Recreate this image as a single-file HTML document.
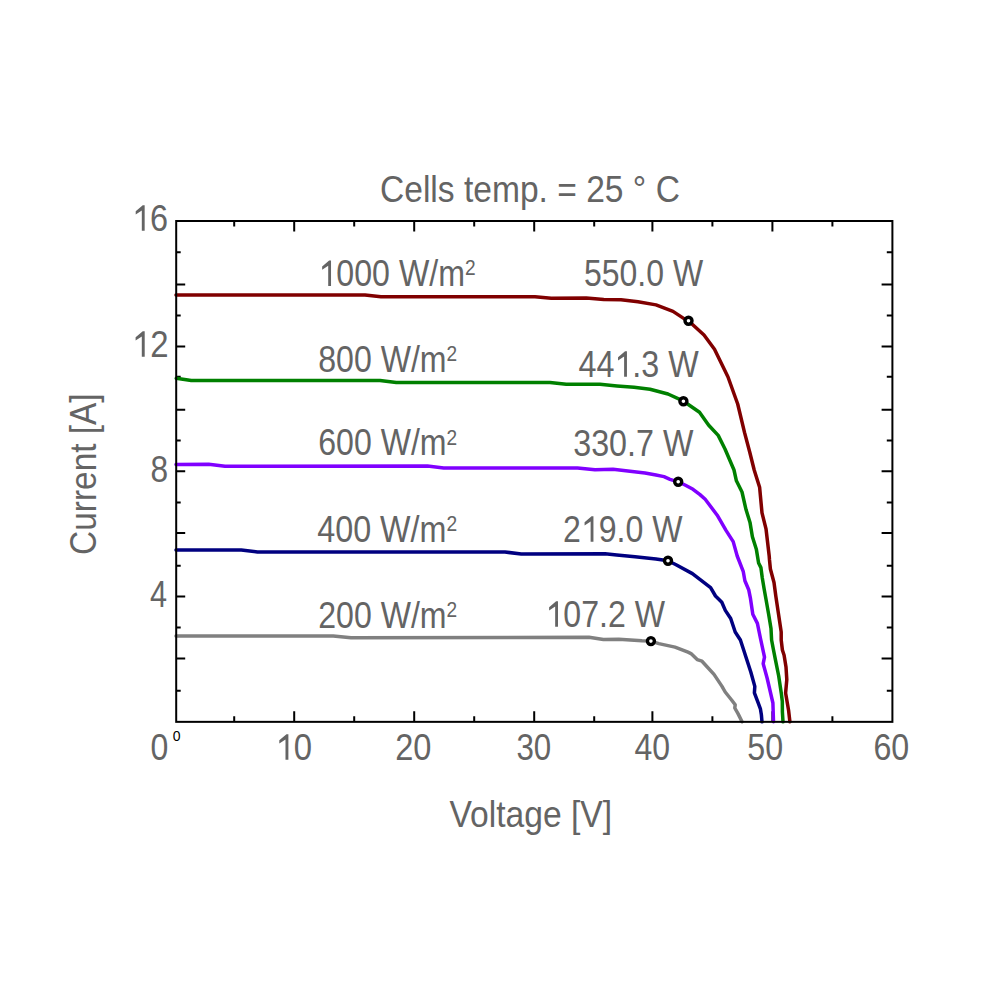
<!DOCTYPE html><html><head><meta charset="utf-8"><style>html,body{margin:0;padding:0;background:#fff;}svg{display:block;}text{font-family:"Liberation Sans",sans-serif;}</style></head><body>
<svg width="1000" height="1000" viewBox="0 0 1000 1000">
<rect width="1000" height="1000" fill="#fff"/>
<path d="M176.2,690.80h4.5M892.4,690.80h-5.6M176.2,658.40h9M892.4,658.40h-10.8M176.2,627.40h4.5M892.4,627.40h-5.6M176.2,596.60h9M892.4,596.60h-10.8M176.2,565.80h4.5M892.4,565.80h-5.6M176.2,533.00h9M892.4,533.00h-10.8M176.2,502.40h4.5M892.4,502.40h-5.6M176.2,471.20h9M892.4,471.20h-10.8M176.2,440.60h4.5M892.4,440.60h-5.6M176.2,409.70h9M892.4,409.70h-10.8M176.2,376.80h4.5M892.4,376.80h-5.6M176.2,346.40h9M892.4,346.40h-10.8M176.2,315.40h4.5M892.4,315.40h-5.6M176.2,284.60h9M892.4,284.60h-10.8M176.2,252.20h4.5M892.4,252.20h-5.6M234.20,221.0v5.5M234.20,721.85v-5.5M294.20,221.0v10.6M294.20,721.85v-10.6M354.20,221.0v5.5M354.20,721.85v-5.5M414.20,221.0v10.6M414.20,721.85v-10.6M474.20,221.0v5.5M474.20,721.85v-5.5M534.20,221.0v10.6M534.20,721.85v-10.6M594.20,221.0v5.5M594.20,721.85v-5.5M652.40,221.0v10.6M652.40,721.85v-10.6M712.40,221.0v5.5M712.40,721.85v-5.5M772.40,221.0v10.6M772.40,721.85v-10.6M832.40,221.0v5.5M832.40,721.85v-5.5" stroke="#000" stroke-width="2" fill="none"/>
<polyline points="176.00,294.90 365.00,294.90 381.00,296.80 535.00,296.80 551.25,298.25 586.25,298.00 603.75,299.50 621.00,299.70 638.00,301.70 656.00,304.90 673.00,311.40 684.00,318.60 688.40,320.70 704.00,335.00 714.50,349.20 728.00,377.00 737.70,404.00 744.50,432.40 749.70,452.00 754.20,470.00 759.60,487.20 762.00,512.80 766.00,528.80 769.20,556.00 769.50,560.00 770.40,569.00 774.00,582.50 775.80,596.00 778.50,614.00 781.20,632.00 781.20,640.00 782.40,650.00 784.10,655.30 786.00,667.00 786.80,679.60 785.60,693.00 788.60,710.50 789.90,721.80" fill="none" stroke="#800000" stroke-width="3.5" stroke-linejoin="round" stroke-linecap="round"/>
<polyline points="176.25,378.25 191.25,380.50 380.00,380.50 396.25,382.50 550.00,382.50 566.25,384.25 600.00,384.30 617.00,385.90 634.00,387.20 650.00,389.20 668.00,394.00 683.60,401.20 699.50,412.20 708.50,425.00 718.20,435.40 725.00,449.00 734.00,470.00 736.40,480.80 742.00,492.00 746.00,509.60 750.00,522.40 752.40,536.80 756.40,549.60 758.60,563.00 760.90,567.60 762.30,578.00 764.10,588.80 765.90,598.70 768.60,614.00 771.00,628.50 771.60,640.00 773.30,649.00 775.60,660.70 778.70,676.00 781.40,694.00 782.30,701.30 782.40,712.00 783.00,721.80" fill="none" stroke="#008000" stroke-width="3.5" stroke-linejoin="round" stroke-linecap="round"/>
<polyline points="176.00,464.50 208.75,464.30 225.00,466.20 427.50,466.10 443.75,468.00 577.50,468.00 595.00,469.75 613.00,469.20 630.00,471.20 645.00,473.00 656.00,475.00 664.00,476.60 670.00,479.30 678.20,481.80 685.00,485.00 693.00,489.30 700.00,494.60 705.20,499.20 717.20,515.20 726.00,530.40 733.20,541.60 737.20,556.00 743.30,571.70 744.90,580.70 748.70,589.70 750.50,598.70 752.80,614.30 757.40,623.40 760.60,639.00 764.50,657.20 763.20,663.70 767.10,678.00 772.90,703.00 773.50,721.80" fill="none" stroke="#8000ff" stroke-width="3.5" stroke-linejoin="round" stroke-linecap="round"/>
<polyline points="176.00,550.00 241.25,550.00 257.50,552.00 505.00,552.00 521.25,554.00 605.00,553.75 616.80,555.10 635.00,556.80 656.00,558.90 668.00,560.80 675.60,564.50 692.40,573.60 710.60,587.60 715.50,596.00 721.80,602.30 725.30,610.40 730.70,618.50 735.20,632.00 740.40,640.00 744.00,651.00 745.60,656.00 750.80,672.00 754.80,686.40 754.40,692.80 758.00,702.40 760.40,708.80 761.40,715.00 762.00,721.80" fill="none" stroke="#000080" stroke-width="3.5" stroke-linejoin="round" stroke-linecap="round"/>
<polyline points="176.00,635.90 333.25,635.90 351.00,637.75 589.00,637.30 603.40,639.50 618.80,639.30 642.00,640.80 650.80,641.10 658.80,643.60 675.00,647.10 688.00,652.20 691.00,653.60 697.20,659.60 702.00,661.20 714.00,674.40 722.00,686.40 725.20,692.00 731.60,700.00 735.20,704.80 734.80,708.00 738.00,713.60 741.20,720.00 742.00,721.80" fill="none" stroke="#808080" stroke-width="3.5" stroke-linejoin="round" stroke-linecap="round"/>
<rect x="176.2" y="221.0" width="716.20" height="500.85" fill="none" stroke="#000" stroke-width="2"/>
<circle cx="688.5" cy="320.7" r="3.5" fill="#fff" stroke="#000" stroke-width="3.4"/>
<circle cx="683.4" cy="401.2" r="3.5" fill="#fff" stroke="#000" stroke-width="3.4"/>
<circle cx="678.2" cy="481.8" r="3.5" fill="#fff" stroke="#000" stroke-width="3.4"/>
<circle cx="668" cy="560.8" r="3.5" fill="#fff" stroke="#000" stroke-width="3.4"/>
<circle cx="650.9" cy="641.1" r="3.5" fill="#fff" stroke="#000" stroke-width="3.4"/>
<g transform="translate(379.99,0) scale(0.9076,1) translate(-379.99,0)"><text x="379.99" y="202.00" font-size="37" fill="#646464" text-anchor="start">Cells temp. = 25 ° C</text></g>
<g transform="translate(168.08,0) scale(0.8772,1) translate(-168.08,0)"><text x="168.08" y="230.75" font-size="37" fill="#646464" text-anchor="end"> 6</text><path d="M620 0L620 1120L235 899L235 1076L680 1409L800 1409L800 0Z" fill="#646464" transform="translate(126.930,230.75) scale(0.018066,-0.018066)"/></g>
<g transform="translate(168.47,0) scale(0.8906,1) translate(-168.47,0)"><text x="168.47" y="356.70" font-size="37" fill="#646464" text-anchor="end"> 2</text><path d="M620 0L620 1120L235 899L235 1076L680 1409L800 1409L800 0Z" fill="#646464" transform="translate(127.323,356.70) scale(0.018066,-0.018066)"/></g>
<g transform="translate(168.16,0) scale(0.8560,1) translate(-168.16,0)"><text x="168.16" y="482.00" font-size="37" fill="#646464" text-anchor="end">8</text></g>
<g transform="translate(167.15,0) scale(0.8274,1) translate(-167.15,0)"><text x="167.15" y="606.80" font-size="37" fill="#646464" text-anchor="end">4</text></g>
<g transform="translate(159.40,0) scale(0.8667,1) translate(-159.40,0)"><text x="159.40" y="759.80" font-size="37" fill="#646464" text-anchor="middle">0</text></g>
<g transform="translate(293.83,0) scale(0.8896,1) translate(-293.83,0)"><text x="293.83" y="759.80" font-size="37" fill="#646464" text-anchor="middle"> 0</text><path d="M620 0L620 1120L235 899L235 1076L680 1409L800 1409L800 0Z" fill="#646464" transform="translate(273.260,759.80) scale(0.018066,-0.018066)"/></g>
<g transform="translate(413.30,0) scale(0.8803,1) translate(-413.30,0)"><text x="413.30" y="759.80" font-size="37" fill="#646464" text-anchor="middle">20</text></g>
<g transform="translate(533.85,0) scale(0.8456,1) translate(-533.85,0)"><text x="533.85" y="759.80" font-size="37" fill="#646464" text-anchor="middle">30</text></g>
<g transform="translate(652.32,0) scale(0.8651,1) translate(-652.32,0)"><text x="652.32" y="759.80" font-size="37" fill="#646464" text-anchor="middle">40</text></g>
<g transform="translate(765.22,0) scale(0.8712,1) translate(-765.22,0)"><text x="765.22" y="759.80" font-size="37" fill="#646464" text-anchor="middle">50</text></g>
<g transform="translate(891.34,0) scale(0.8712,1) translate(-891.34,0)"><text x="891.34" y="759.80" font-size="37" fill="#646464" text-anchor="middle">60</text></g>
<g transform="translate(449.40,0) scale(0.9096,1) translate(-449.40,0)"><text x="449.40" y="826.80" font-size="37" fill="#646464" text-anchor="start">Voltage [V]</text></g>
<g transform="translate(584.05,0) scale(0.8639,1) translate(-584.05,0)"><text x="584.05" y="285.70" font-size="37" fill="#646464" text-anchor="start">550.0 W</text></g>
<g transform="translate(578.43,0) scale(0.8729,1) translate(-578.43,0)"><text x="578.43" y="376.70" font-size="37" fill="#646464" text-anchor="start">44 .3 W</text><path d="M620 0L620 1120L235 899L235 1076L680 1409L800 1409L800 0Z" fill="#646464" transform="translate(619.560,376.70) scale(0.018066,-0.018066)"/></g>
<g transform="translate(573.23,0) scale(0.8721,1) translate(-573.23,0)"><text x="573.23" y="455.70" font-size="37" fill="#646464" text-anchor="start">330.7 W</text></g>
<g transform="translate(563.06,0) scale(0.8676,1) translate(-563.06,0)"><text x="563.06" y="541.70" font-size="37" fill="#646464" text-anchor="start">2 9.0 W</text><path d="M620 0L620 1120L235 899L235 1076L680 1409L800 1409L800 0Z" fill="#646464" transform="translate(583.628,541.70) scale(0.018066,-0.018066)"/></g>
<g transform="translate(545.45,0) scale(0.8677,1) translate(-545.45,0)"><text x="545.45" y="626.80" font-size="37" fill="#646464" text-anchor="start"> 07.2 W</text><path d="M620 0L620 1120L235 899L235 1076L680 1409L800 1409L800 0Z" fill="#646464" transform="translate(545.450,626.80) scale(0.018066,-0.018066)"/></g>
<g transform="translate(318.47,0) scale(0.8690,1) translate(-318.47,0)"><text x="318.47" y="286.00" font-size="37" fill="#646464" text-anchor="start"> 000 W/m<tspan font-size="22" dy="-10.6">2</tspan></text><path d="M620 0L620 1120L235 899L235 1076L680 1409L800 1409L800 0Z" fill="#646464" transform="translate(318.470,286.00) scale(0.018066,-0.018066)"/></g>
<g transform="translate(318.25,0) scale(0.8669,1) translate(-318.25,0)"><text x="318.25" y="371.80" font-size="37" fill="#646464" text-anchor="start">800 W/m<tspan font-size="22" dy="-10.6">2</tspan></text></g>
<g transform="translate(318.25,0) scale(0.8669,1) translate(-318.25,0)"><text x="318.25" y="455.50" font-size="37" fill="#646464" text-anchor="start">600 W/m<tspan font-size="22" dy="-10.6">2</tspan></text></g>
<g transform="translate(317.22,0) scale(0.8734,1) translate(-317.22,0)"><text x="317.22" y="541.80" font-size="37" fill="#646464" text-anchor="start">400 W/m<tspan font-size="22" dy="-10.6">2</tspan></text></g>
<g transform="translate(318.25,0) scale(0.8669,1) translate(-318.25,0)"><text x="318.25" y="627.90" font-size="37" fill="#646464" text-anchor="start">200 W/m<tspan font-size="22" dy="-10.6">2</tspan></text></g>
<text x="0" y="0" fill="#646464" transform="translate(96.3,554.9) rotate(-90) scale(0.921,1)" font-size="36.3">Current [A]</text>
<text x="176.6" y="741" font-size="14" fill="#000" text-anchor="middle">0</text>
</svg></body></html>
